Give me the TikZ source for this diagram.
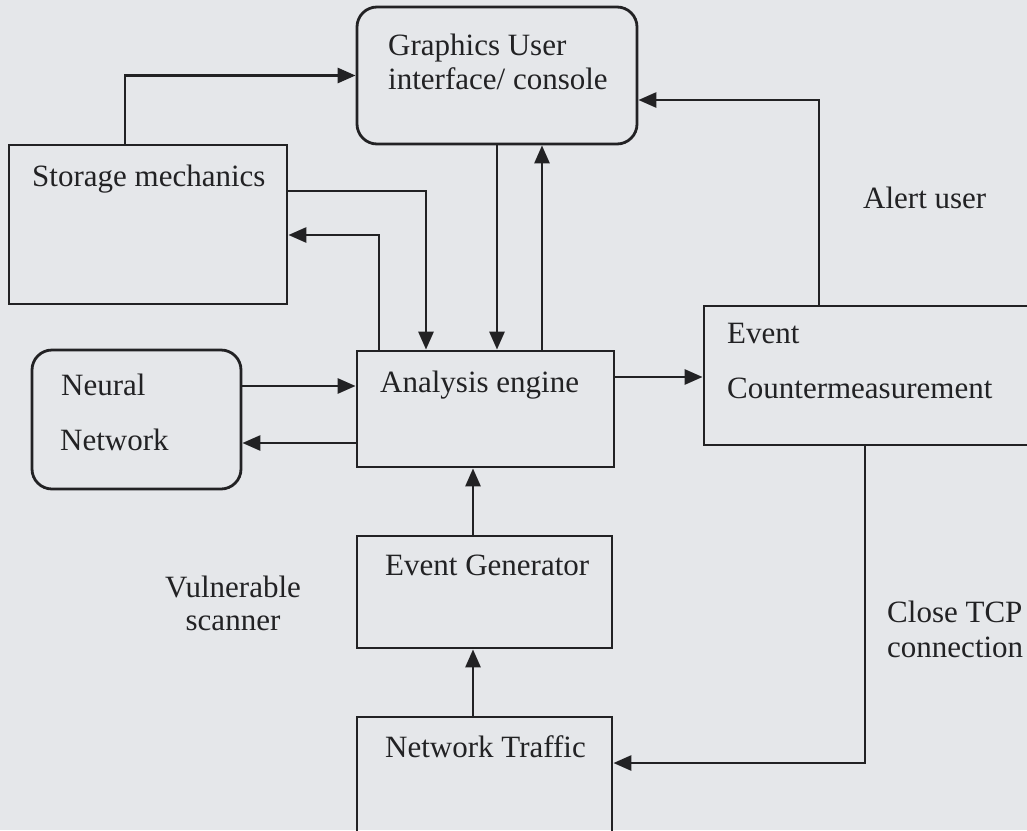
\documentclass[tikz,border=0pt]{standalone}
\usepackage{fontspec}
\setmainfont{Liberation Serif}
\usetikzlibrary{arrows.meta}
\definecolor{paper}{RGB}{229,231,234}
\definecolor{ink}{RGB}{34,34,36}
\begin{document}
\begin{tikzpicture}[x=1pt,y=-1pt,
  box/.style={draw=ink, line width=2.8pt, rectangle, inner sep=0pt},
  roundbox/.style={box, rounded corners=20pt},
  lbl/.style={anchor=base west, inner sep=0pt, text=ink,
              font=\fontsize{31}{36}\selectfont},
  clbl/.style={lbl, anchor=base},
  arr/.style={draw=ink, line width=2.8pt,
              -{Triangle[length=18pt,width=15pt]}}]
  \path[use as bounding box, fill=paper] (0,0) rectangle (1027,830);
  \clip (0,0) rectangle (1027,830);

  % blocks
  \node[roundbox, minimum width=280pt, minimum height=137pt] (gui) at (497,75.5) {};
  \node[box, minimum width=278pt, minimum height=159pt] (stor) at (148,224.5) {};
  \node[roundbox, minimum width=209pt, minimum height=139pt] (neu) at (136.5,419.5) {};
  \node[box, minimum width=257pt, minimum height=116pt] (ana) at (485.5,409) {};
  \node[box, minimum width=336pt, minimum height=139pt] (evt) at (872,375.5) {};
  \node[box, minimum width=255pt, minimum height=112pt] (eg) at (484.5,592) {};
  \node[box, minimum width=255pt, minimum height=133pt] (nt) at (484.5,783.5) {};

  % block texts
  \node[lbl] (guiA) at (388,55) {Graphics User};
  \node[lbl] (guiB) at (388,89) {interface/ console};
  \node[lbl] (storT) at (32,186) {Storage mechanics};
  \node[lbl] (neuA) at (61,395) {Neural};
  \node[lbl] (neuB) at (60,450) {Network};
  \node[lbl] (anaT) at (380,392) {Analysis engine};
  \node[lbl] (evtA) at (727,343) {Event};
  \node[lbl] (evtB) at (727,398) {Countermeasurement};
  \node[lbl] (egT) at (385,575) {Event Generator};
  \node[lbl] (ntT) at (385,757) {Network Traffic};

  % free labels
  \node[lbl] (alert) at (863,208) {Alert user};
  \node[lbl] (tcpA) at (887,622) {Close TCP};
  \node[lbl] (tcpB) at (887,657) {connection};
  \node[clbl] (vulA) at (233,597) {Vulnerable};
  \node[clbl] (vulB) at (233,630) {scanner};

  % connectors
  \draw[arr] ([xshift=-23pt]stor.north) |- (gui.west);
  \draw[arr] ([yshift=33.5pt]stor.east) -| ([xshift=-59.5pt]ana.north);
  \draw[arr] ([xshift=-106.5pt]ana.north) |- ([yshift=-10.5pt]stor.east);
  \draw[arr] (gui.south) -- (gui.south |- ana.north);
  \draw[arr] ([xshift=56.5pt]ana.north) -- ([xshift=56.5pt]ana.north |- gui.south);
  \draw[arr] ([yshift=33.5pt]neu.east) -- ([yshift=33.5pt]neu.east -| ana.west);
  \draw[arr] ([yshift=-23.5pt]neu.east -| ana.west) -- ([yshift=-23.5pt]neu.east);
  \draw[arr] ([yshift=32pt]ana.east) -- ([yshift=32pt]ana.east -| evt.west);
  \draw[arr] ([xshift=-53pt]evt.north) |- ([yshift=-24.5pt]gui.east);
  \draw[arr] ([xshift=-7pt]evt.south) |- ([yshift=20.5pt]nt.east);
  \draw[arr] ([xshift=-11.5pt]eg.north) -- ([xshift=-11.5pt]eg.north |- ana.south);
  \draw[arr] ([xshift=-11.5pt]nt.north) -- ([xshift=-11.5pt]nt.north |- eg.south);
\end{tikzpicture}
\end{document}
